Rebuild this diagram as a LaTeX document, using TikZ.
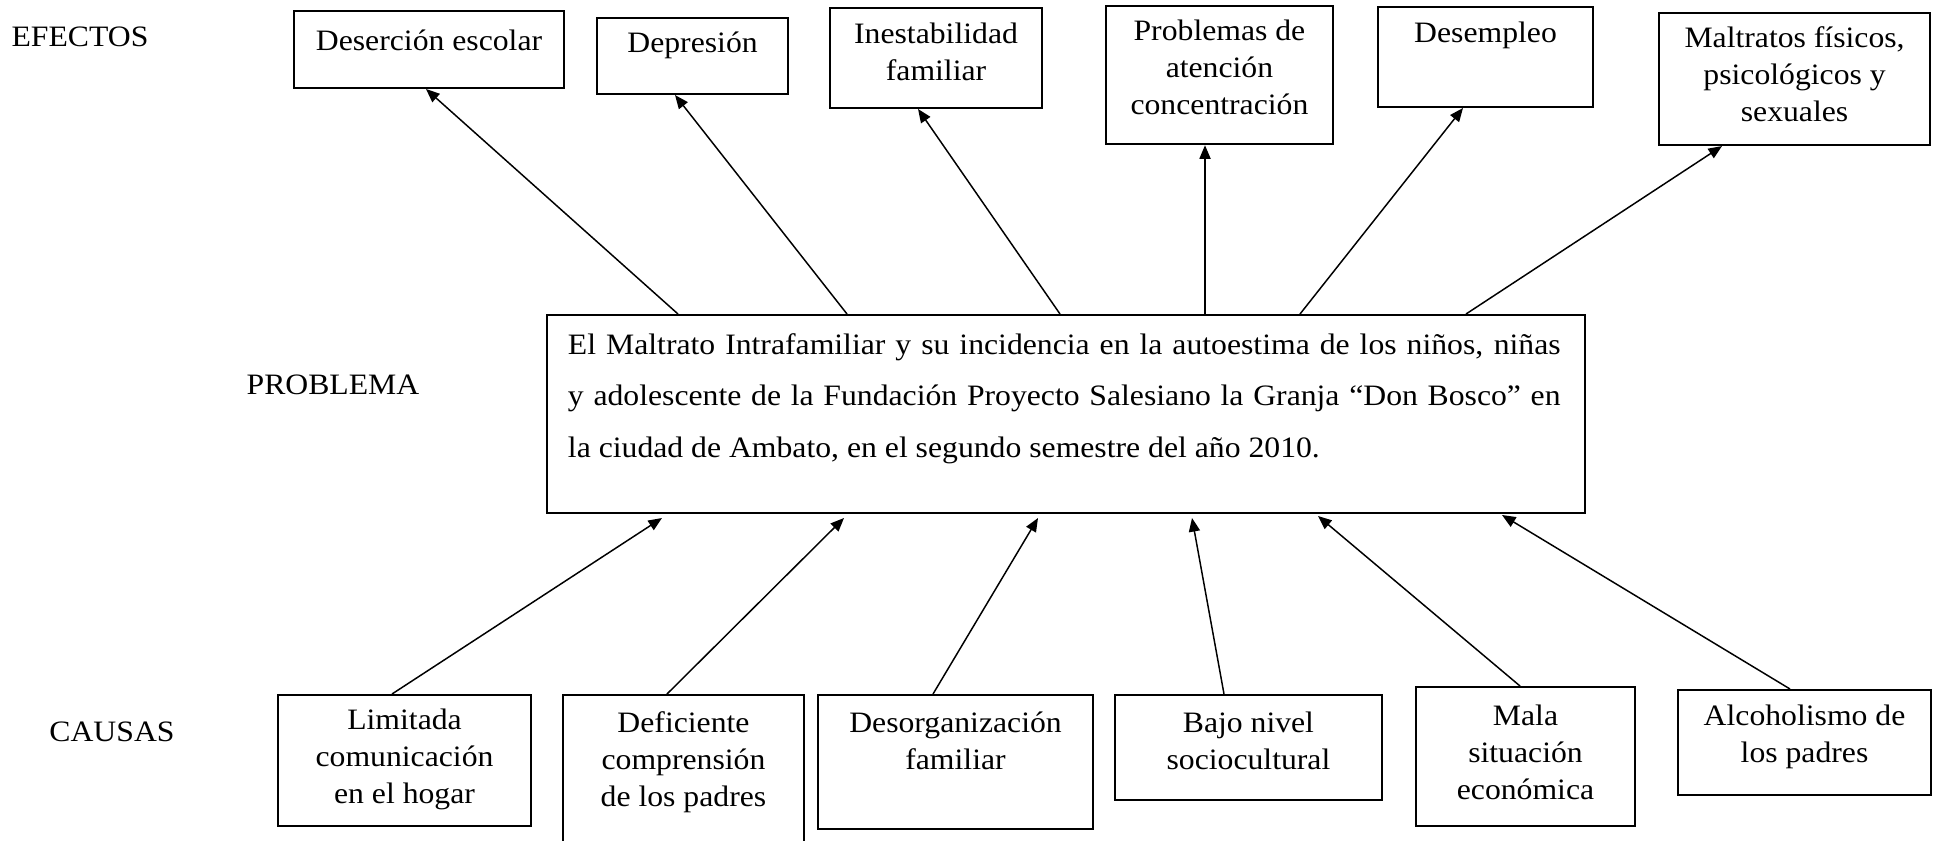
\documentclass[tikz,border=0pt]{standalone}
\usepackage{fontspec}
\setmainfont{Liberation Serif}[FakeStretch=1.07]
\usetikzlibrary{calc,arrows.meta}
\newcommand{\tbox}[4]{\parbox[t][#2][t]{#1}{\centering\fontsize{12}{15}\selectfont\rule{0pt}{#3}#4\par}}
\newcommand{\jline}[1]{\makebox[402pt][s]{#1}}
\tikzset{
  boxn/.style={draw, line width=0.8pt, inner sep=0pt, anchor=north west},
  arr/.style={line width=0.6pt, -{Triangle[length=5.5pt,width=4.5pt]}},
  lbl/.style={font=\fontsize{12}{15}\selectfont, inner sep=0pt}
}
\begin{document}
\begin{tikzpicture}[x=0.405pt, y=-0.405pt]
\useasboundingbox (0,0) rectangle (1946,840);
% labels
\node[lbl] (lef) at (80,37) {EFECTOS};
\node[lbl] (lpr) at (333,385) {PROBLEMA};
\node[lbl] (lca) at (112,732) {CAUSAS};
% effects
\node[boxn] (e1) at (293,10) {\tbox{109.4pt}{31.2pt}{16pt}{Deserción escolar}};
\node[boxn] (e2) at (596,17) {\tbox{77.4pt}{30.8pt}{14pt}{Depresión}};
\node[boxn] (e3) at (829,7) {\tbox{85.9pt}{40.5pt}{14.5pt}{Inestabilidad\\familiar}};
\node[boxn] (e4) at (1105,5) {\tbox{91.9pt}{56pt}{14pt}{Problemas de\\atención\\concentración}};
\node[boxn] (e5) at (1377,6) {\tbox{87.1pt}{40.5pt}{14.5pt}{Desempleo}};
\node[boxn] (e6) at (1658,12) {\tbox{109.8pt}{53.5pt}{14pt}{Maltratos físicos,\\psicológicos y\\sexuales}};
% problem
\node[boxn] (p) at (546,314) {\parbox[t][80.2pt][t]{420.4pt}{\hspace*{8.5pt}\parbox[t]{402pt}{\fontsize{12}{21}\selectfont\rule{0pt}{15.8pt}\jline{El Maltrato Intrafamiliar y su incidencia en la autoestima de los niños, niñas}\\
\jline{y adolescente de la Fundación Proyecto Salesiano la Granja “Don Bosco” en}\\
la ciudad de Ambato, en el segundo semestre del año 2010.\par}}};
% causes
\node[boxn] (c1) at (277,694) {\tbox{102.5pt}{53pt}{14pt}{Limitada\\comunicación\\en el hogar}};
\node[boxn] (c2) at (562,694) {\tbox{97.6pt}{61pt}{15pt}{Deficiente\\comprensión\\de los padres}};
\node[boxn] (c3) at (817,694) {\tbox{111.4pt}{54.3pt}{15pt}{Desorganización\\familiar}};
\node[boxn] (c4) at (1114,694) {\tbox{108.1pt}{42.5pt}{15pt}{Bajo nivel\\sociocultural}};
\node[boxn] (c5) at (1415,686) {\tbox{88.7pt}{56.3pt}{15.5pt}{Mala\\situación\\económica}};
\node[boxn] (c6) at (1677,689) {\tbox{102.5pt}{42.5pt}{14.5pt}{Alcoholismo de\\los padres}};
% effect arrows
\draw[arr] ($(p.north west)+(132,0)$) -- ($(e1.south west)+(133,0)$);
\draw[arr] ($(p.north west)+(301,0)$) -- ($(e2.south west)+(79,0)$);
\draw[arr] ($(p.north west)+(514,0)$) -- ($(e3.south west)+(89,0)$);
\draw[arr] ($(p.north west)+(659,0)$) -- ($(e4.south west)+(100,0)$);
\draw[arr] ($(p.north west)+(754,0)$) -- ($(e5.south west)+(86,0)$);
\draw[arr] ($(p.north west)+(920,0)$) -- ($(e6.south west)+(64,0)$);
% cause arrows
\draw[arr] ($(c1.north west)+(115,0)$) -- ($(p.south west)+(116,4)$);
\draw[arr] ($(c2.north west)+(105,0)$) -- ($(p.south west)+(298,4)$);
\draw[arr] ($(c3.north west)+(116,0)$) -- ($(p.south west)+(492,4)$);
\draw[arr] ($(c4.north west)+(110,0)$) -- ($(p.south west)+(646,4)$);
\draw[arr] ($(c5.north west)+(105,0)$) -- ($(p.south west)+(772,2)$);
\draw[arr] ($(c6.north west)+(113,0)$) -- ($(p.south west)+(956,1)$);
\end{tikzpicture}
\end{document}
